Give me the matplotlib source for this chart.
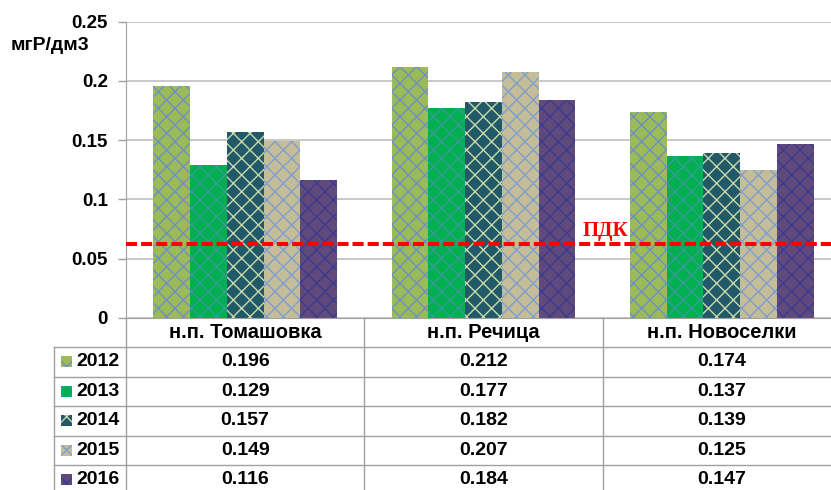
import matplotlib
matplotlib.use("Agg")
import matplotlib.pyplot as plt
import matplotlib.transforms as mtransforms
from matplotlib.lines import Line2D
from matplotlib.patches import Rectangle
import numpy as np

# ---- data ----
categories = ["н.п. Томашовка", "н.п. Речица", "н.п. Новоселки"]
years = ["2012", "2013", "2014", "2015", "2016"]
v2012 = [0.196, 0.212, 0.174]
v2013 = [0.129, 0.177, 0.137]
v2014 = [0.157, 0.182, 0.139]
v2015 = [0.149, 0.207, 0.125]
v2016 = [0.116, 0.184, 0.147]
series = [v2012, v2013, v2014, v2015, v2016]
pdk_value = 0.062
pdk_label = "ПДК"
y_label = "мгР/дм3"
y_ticks = [0, 0.05, 0.1, 0.15, 0.2, 0.25]
y_tick_labels = ["0", "0.05", "0.1", "0.15", "0.2", "0.25"]

# ---- styles ----
face_colors = ["#9BBB59", "#00B050", "#215968", "#C4BD97", "#604A7B"]
hatch_colors = ["#6F8FC4", "#3A9A98", "#C8D8A8", "#7F9FD0", "#3C3A90"]
grid_gray = "#BFBFBF"
line_gray = "#A0A0A0"

plt.rcParams["font.family"] = ["Liberation Sans", "DejaVu Sans"]
plt.rcParams["font.weight"] = "bold"
plt.rcParams["hatch.linewidth"] = 1.0

W, H = 831, 490
fig = plt.figure(figsize=(W / 100, H / 100), dpi=100)

ax_left, ax_right, ax_top, ax_bottom = 126, 841, 21.5, 318
ax_w_px = ax_right - ax_left
ax_h_px = ax_bottom - ax_top
ax = fig.add_axes([ax_left / W, 1 - ax_bottom / H, ax_w_px / W, ax_h_px / H])

n = len(series)
group_frac = 0.77
bw = group_frac / n
x = np.arange(len(categories))
for i, (vals, fc, hc) in enumerate(zip(series, face_colors, hatch_colors)):
    offs = (i - (n - 1) / 2) * bw
    ax.bar(x + offs, vals, width=bw, color=fc, edgecolor=hc, linewidth=0,
           hatch="xx", zorder=2)

ax.set_xlim(-0.5, len(categories) - 0.5)
ax.set_ylim(0, 0.25)
ax.set_yticks(y_ticks)
ax.set_yticklabels(y_tick_labels, fontsize=13.5, fontweight="bold")
ax.set_xticks([])
ax.yaxis.grid(True, color=grid_gray, linewidth=1.2, zorder=0)
ax.set_axisbelow(True)
for s in ["top", "right"]:
    ax.spines[s].set_visible(False)
ax.spines["left"].set_color(line_gray)
ax.spines["bottom"].set_color(line_gray)
ax.tick_params(axis="y", length=6, width=1, color=line_gray, pad=7)

# ПДК line
ax.axhline(pdk_value, color="#FF0000", linewidth=2.9, linestyle=(0, (2.75, 1.0)),
           zorder=4)
ax.text(0.67, pdk_value + 0.0115, pdk_label, transform=ax.get_yaxis_transform(),
        color="#FF0000", fontsize=15, fontweight="bold",
        family=["Liberation Serif", "DejaVu Serif"], ha="center", va="center",
        zorder=5)

fig.text(50 / W, 1 - 46 / H, y_label, ha="center", va="center", fontsize=14,
         fontweight="bold")

# ---- data table (drawn under the axes) ----
hdr_h = 29.0 / ax_h_px
row_h = 29.5 / ax_h_px
lab_w = 72.0 / ax_w_px
nrows = len(years)
tbl_bottom = -(hdr_h + nrows * row_h)
xdata_yaxes = mtransforms.blended_transform_factory(ax.transData, ax.transAxes)
line_kw = dict(color=line_gray, linewidth=1.0, clip_on=False, zorder=3)

# vertical lines: category boundaries (in data x)
bounds = np.arange(len(categories) + 1) - 0.5
for b in bounds[:-1]:
    ax.add_line(Line2D([b, b], [0, tbl_bottom], transform=xdata_yaxes, **line_kw))
# left edge of row-label column
ax.add_line(Line2D([-lab_w, -lab_w], [-hdr_h, tbl_bottom],
                   transform=ax.transAxes, **line_kw))
# horizontal lines
for k in range(nrows + 1):
    yy = -hdr_h - k * row_h
    ax.add_line(Line2D([-lab_w, 1.0], [yy, yy], transform=ax.transAxes, **line_kw))

# header texts
for j, cat in enumerate(categories):
    ax.text(x[j], -hdr_h / 2, cat, transform=xdata_yaxes, ha="center",
            va="center", fontsize=14.5, fontweight="bold", clip_on=False)
# rows
for i, (yr, vals) in enumerate(zip(years, series)):
    yc = -hdr_h - (i + 0.5) * row_h
    ax.text(-6.5 / ax_w_px, yc, yr, transform=ax.transAxes, ha="right",
            va="center", fontsize=14, fontweight="bold", clip_on=False)
    for j, v in enumerate(vals):
        ax.text(x[j], yc, f"{v:.3f}", transform=xdata_yaxes, ha="center",
                va="center", fontsize=14, fontweight="bold", clip_on=False)

# legend keys in the row-label column
key_px = 11
for i, (fc, hc) in enumerate(zip(face_colors, hatch_colors)):
    yc = -hdr_h - (i + 0.5) * row_h
    ax.add_patch(Rectangle((-(126 - 61) / ax_w_px, yc - key_px / 2 / ax_h_px),
                           key_px / ax_w_px, key_px / ax_h_px,
                           transform=ax.transAxes, clip_on=False,
                           facecolor=fc, edgecolor=hc, linewidth=0, hatch="xx"))

fig.savefig("out.png", dpi=100)
